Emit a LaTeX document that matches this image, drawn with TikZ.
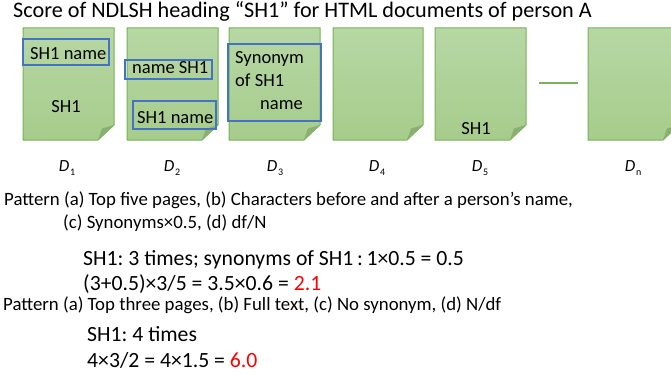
\documentclass[tikz,border=0pt]{standalone}
\usepackage{fontspec}
\setmainfont{Carlito}
\frenchspacing
\definecolor{pagetop}{HTML}{B7D7A4}
\definecolor{pagebot}{HTML}{A6CC8C}
\definecolor{pageedge}{HTML}{78B356}
\definecolor{foldfill}{HTML}{8AB071}
\definecolor{boxblue}{HTML}{4472C4}
\definecolor{scorered}{HTML}{FF0000}

% one document page with a folded bottom-right corner: name, left x, right x
\newcommand\docpage[3]{%
  \path[pagebody] (#2,28) -- (#3,28) -- (#3,125) -- (#3-16,140) -- (#2,140) -- cycle;
  \fill[foldfill] (#3-16,140) -- (#3,125) -- (#3-12,128.5) -- cycle;
  \coordinate (#1) at ({(#2+#3)/2},84);
}
% document label D with a small upright subscript
\newcommand\doclabel[1]{\textit{D}\kern0.8pt\raisebox{-0.5ex}{\fontsize{10}{11}\selectfont #1}}

\begin{document}
\begin{tikzpicture}[x=1pt,y=-1pt,
  pagebody/.style={top color=pagetop,bottom color=pagebot,draw=pageedge,line width=1pt},
  hitbox/.style={draw=boxblue,line width=1.2pt},
  pagetext/.style={anchor=base west,inner sep=0pt,font=\fontsize{18.5}{22}\selectfont},
  doclab/.style={anchor=base,inner sep=0pt,font=\fontsize{17}{20}\selectfont},
  pattern/.style={anchor=base west,inner sep=0pt,font=\fontsize{18.8}{22}\selectfont},
  calc/.style={anchor=base west,inner sep=0pt,font=\fontsize{21.7}{25}\selectfont}]
\useasboundingbox (0,0) rectangle (671,377);

% heading
\node[anchor=base west,inner sep=0pt,font=\fontsize{22.2}{26}\selectfont] (title) at (13,18)
  {Score of NDLSH heading “SH1” for HTML documents of person A};

% the pages
\docpage{p1}{23}{114}
\docpage{p2}{127}{218}
\docpage{p3}{229}{320}
\docpage{p4}{333}{423}
\docpage{p5}{435}{526}
\docpage{pn}{588}{679}
\draw[draw=pageedge,line width=1.2pt] (539,83) coordinate (gapL) -- (578,83) coordinate (gapR);

% D1
\draw[hitbox] (23,39) rectangle (109,65);
\node[pagetext] (d1a) at (30,60) {SH1 name};
\node[pagetext,anchor=base] (d1b) at (66,113) {SH1};
% D2
\draw[hitbox] (125,60) rectangle (212,79);
\node[pagetext] (d2a) at (132,74) {name SH1};
\draw[hitbox] (133,101) rectangle (216,129);
\node[pagetext] (d2b) at (137,124) {SH1 name};
% D3
\draw[hitbox] (228,44) rectangle (321,121);
\node[pagetext] (d3a) at (235,64) {Synonym};
\node[pagetext] (d3b) at (235,87) {of SH1};
\node[pagetext] (d3c) at (260,110) {name};
% D5
\node[pagetext,anchor=base] (d5a) at (476,134) {SH1};

% page labels
\node[doclab] (l1) at (67,171) {\doclabel{1}};
\node[doclab] (l2) at (172,171) {\doclabel{2}};
\node[doclab] (l3) at (275,171) {\doclabel{3}};
\node[doclab] (l4) at (377,171) {\doclabel{4}};
\node[doclab] (l5) at (480,171) {\doclabel{5}};
\node[doclab] (ln) at (633,171) {\doclabel{n}};

% first pattern
\node[pattern] (pa1) at (4,205) {Pattern (a) Top five pages, (b) Characters before and after a person’s name,};
\node[pattern] (pa2) at (63,228) {(c) Synonyms×0.5, (d) df/N};
\node[calc] (ca1) at (83,265) {SH1: 3 times; synonyms of SH1\,:\,1×0.5 = 0.5};
\node[calc] (ca2) at (83,290) {(3+0.5)×3/5 = 3.5×0.6 = \textcolor{scorered}{2.1}};

% second pattern
\node[pattern] (pb1) at (3,310) {Pattern (a) Top three pages, (b) Full text, (c) No synonym, (d) N/df};
\node[calc] (cb1) at (87,341) {SH1: 4 times};
\node[calc] (cb2) at (87,367) {4×3/2 = 4×1.5 = \textcolor{scorered}{6.0}};
\end{tikzpicture}
\end{document}
